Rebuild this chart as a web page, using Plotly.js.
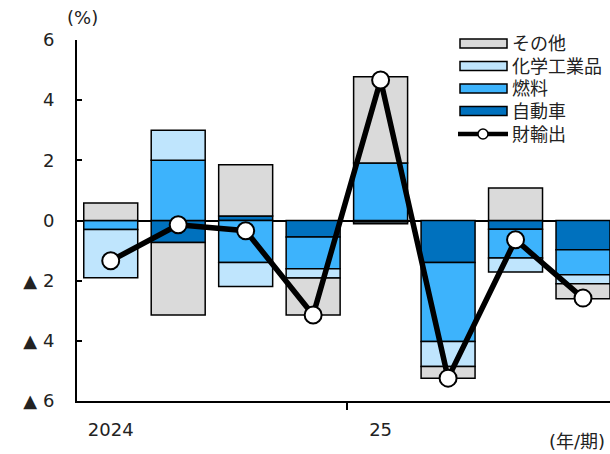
<!DOCTYPE html>
<html>
<head>
<meta charset="utf-8">
<script src="https://cdn.plot.ly/plotly-3.0.1.min.js"></script>
<style>html,body{margin:0;padding:0;background:#fff;}#chart{width:610px;height:454px;}</style>
</head>
<body>
<div id="chart"></div>
<script>
// Quarters 2024Q1..2025Q4 (index positions on the x axis)
const quarters = [0, 1, 2, 3, 4, 5, 6, 7];
const xTickVals = [0, 4];
const xTickText = ['2024', '25'];
const yTickVals = [-6, -4, -2, 0, 2, 4, 6];
const yTickText = ['▲ 6', '▲ 4', '▲ 2', '0', '2', '4', '6'];

const autoVals  = [0.00, -0.73, 0.15, -0.55, -0.05, -1.40, -0.29, -0.97]; // 自動車
const fuelVals  = [-0.30, 2.00, -1.40, -1.05, 1.91, -2.62, -0.96, -0.83]; // 燃料
const chemVals  = [-1.60, 1.00, -0.79, -0.31, -0.06, -0.83, -0.46, -0.30]; // 化学工業品
const otherVals = [0.58, -2.41, 1.70, -1.23, 2.87, -0.39, 1.08, -0.50];   // その他
const exportVals = [-1.34, -0.14, -0.34, -3.14, 4.67, -5.24, -0.64, -2.58]; // 財輸出

const seriesNames  = ['その他', '化学工業品', '燃料', '自動車', '財輸出'];
const seriesColors = ['#DADADA', '#BFE5FD', '#3DB3FC', '#0071BE', '#000000'];

const font = 'DejaVu Sans, Noto Sans CJK JP, sans-serif';
const edge = {color: '#000', width: 1.5};

function bar(i, y) {
  return {type: 'bar', name: seriesNames[i], x: quarters, y: y,
          marker: {color: seriesColors[i], line: edge}, hoverinfo: 'y'};
}

const data = [
  bar(3, autoVals),
  bar(2, fuelVals),
  bar(1, chemVals),
  bar(0, otherVals),
  {type: 'scatter', mode: 'lines+markers', name: seriesNames[4], x: quarters, y: exportVals,
   line: {color: '#000', width: 5.5},
   marker: {symbol: 'circle', size: 17, color: '#fff', line: {color: '#000', width: 2}}}
];

// plot area geometry (pixels) for placing the hand-made legend
const M = {l: 77, r: 0, t: 40, b: 53};
const W = 610, H = 454;
const PW = W - M.l - M.r, PH = H - M.t - M.b;
const px = v => (v - M.l) / PW;
const py = v => (H - M.b - v) / PH;

const shapes = [];
const annotations = [
  {text: '(%)', xref: 'paper', yref: 'paper', x: px(82), y: py(18), xanchor: 'center', yanchor: 'middle',
   showarrow: false, font: {size: 18, color: '#222'}},
  {text: '(年/期)', xref: 'paper', yref: 'paper', x: px(606), y: py(441), xanchor: 'right', yanchor: 'middle',
   showarrow: false, borderpad: 0, font: {size: 18, color: '#222'}}
];
const rowY = [43.5, 66, 88.5, 111, 134];
seriesNames.forEach((nm, i) => {
  const yc = rowY[i];
  if (i < 4) {
    shapes.push({type: 'rect', xref: 'paper', yref: 'paper',
      x0: px(460), x1: px(507), y0: py(yc - 4.5), y1: py(yc + 4.5),
      fillcolor: seriesColors[i], line: {color: '#000', width: 1.5}});
  } else {
    shapes.push({type: 'line', xref: 'paper', yref: 'paper',
      x0: px(458), x1: px(508), y0: py(yc), y1: py(yc), line: {color: '#000', width: 4.5}});
    shapes.push({type: 'circle', xref: 'paper', yref: 'paper',
      x0: px(478), x1: px(488), y0: py(yc - 5), y1: py(yc + 5),
      fillcolor: '#fff', line: {color: '#000', width: 1.5}});
  }
  annotations.push({text: nm, xref: 'paper', yref: 'paper', x: px(511), y: py(yc),
    xanchor: 'left', yanchor: 'middle', showarrow: false, borderpad: 0,
    font: {size: 18, color: '#222', family: font}});
});

const layout = {
  width: W, height: H,
  margin: M,
  paper_bgcolor: '#fff', plot_bgcolor: '#fff',
  barmode: 'relative', bargap: 0.2,
  font: {family: font, size: 18, color: '#222'},
  showlegend: false,
  xaxis: {range: [-0.5, 7.4], showgrid: false, zeroline: false,
          showline: true, linecolor: '#000', linewidth: 2,
          tickmode: 'array', tickvals: xTickVals, ticktext: xTickText, ticks: '',
          ticklabelstandoff: 11,
          minor: {tickmode: 'array', tickvals: [3.5], ticks: 'outside', ticklen: 7, tickwidth: 2, tickcolor: '#000', showgrid: false},
          fixedrange: true},
  yaxis: {range: [-6, 6], showgrid: false,
          zeroline: true, zerolinecolor: '#000', zerolinewidth: 2,
          showline: true, linecolor: '#000', linewidth: 2,
          tickmode: 'array', tickvals: yTickVals, ticktext: yTickText,
          ticks: 'inside', ticklen: 5, tickwidth: 2, tickcolor: '#000',
          ticklabelstandoff: 17, fixedrange: true},
  shapes: shapes,
  annotations: annotations
};

Plotly.newPlot('chart', data, layout, {displayModeBar: false, staticPlot: true});
</script>
</body>
</html>
